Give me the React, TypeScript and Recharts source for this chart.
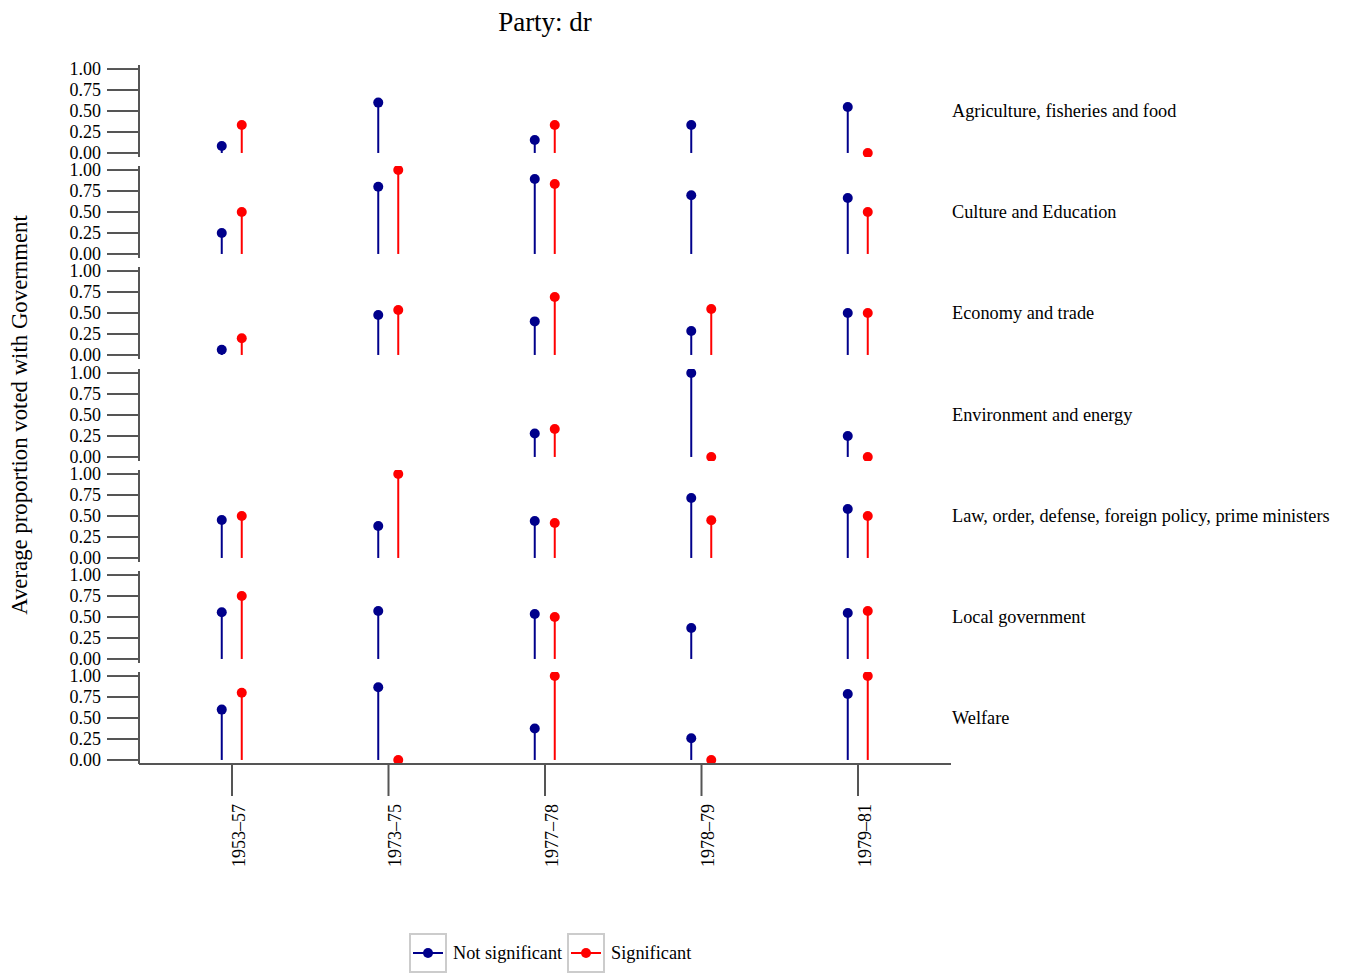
import React from "react";
import { ComposedChart, Bar, XAxis, YAxis } from "recharts";

const periods = ["1953–57", "1973–75", "1977–78", "1978–79", "1979–81"];

const topics = [
  "Agriculture, fisheries and food",
  "Culture and Education",
  "Economy and trade",
  "Environment and energy",
  "Law, order, defense, foreign policy, prime ministers",
  "Local government",
  "Welfare",
];

// one pair of arrays per topic, in the order of `periods`; null = no votes
const agricultureNot = [0.083, 0.6, 0.154, 0.333, 0.548];
const agricultureSig = [0.333, null, 0.333, null, 0];
const cultureNot = [0.25, 0.8, 0.893, 0.7, 0.667];
const cultureSig = [0.5, 1.0, 0.833, null, 0.5];
const economyNot = [0.063, 0.476, 0.4, 0.286, 0.5];
const economySig = [0.2, 0.536, 0.69, 0.548, 0.5];
const environmentNot = [null, null, 0.28, 1.0, 0.25];
const environmentSig = [null, null, 0.333, 0, 0];
const lawNot = [0.452, 0.381, 0.44, 0.714, 0.583];
const lawSig = [0.5, 1.0, 0.417, 0.45, 0.5];
const localNot = [0.556, 0.571, 0.536, 0.37, 0.548];
const localSig = [0.75, null, 0.5, null, 0.571];
const welfareNot = [0.6, 0.867, 0.375, 0.259, 0.786];
const welfareSig = [0.8, 0, 1.0, 0, 1.0];

const notSig = [agricultureNot, cultureNot, economyNot, environmentNot, lawNot, localNot, welfareNot];
const sig = [agricultureSig, cultureSig, economySig, environmentSig, lawSig, localSig, welfareSig];

const yTicks = [0, 0.25, 0.5, 0.75, 1];

const BLUE = "#00008B";
const RED = "#FF0000";
const AXIS = "#555555";
const FONT = '"Liberation Serif", "Times New Roman", serif';

const PLOT_LEFT = 139;
const PLOT_RIGHT = 951;
const ROW_TOP = 65;
const ROW_STEP = 101.2;
const ROW_H = 92;
const XAXIS_H = 112;
const PAD = 12; // room so edge tick labels are not clipped

function Lollipop(props: any) {
  const { x, y, width, height, color, raw } = props;
  if (raw == null) return null;
  const cx = x + width / 2;
  return (
    <g>
      <line x1={cx} x2={cx} y1={y} y2={y + height} stroke={color} strokeWidth={2} />
      <circle cx={cx} cy={y} r={5} fill={color} />
    </g>
  );
}

function PeriodTick({ x, y, payload }: any) {
  const tx = x + 12.5;
  return (
    <text
      x={tx}
      y={y}
      transform={`rotate(-90 ${tx} ${y})`}
      textAnchor="end"
      fontSize={18}
      fontFamily={FONT}
      fill="#000"
    >
      {payload.value}
    </text>
  );
}

function Panel({ idx }: { idx: number }) {
  const last = idx === topics.length - 1;
  const data = periods.map((p, i) => ({ period: p, ns: notSig[idx][i], s: sig[idx][i] }));
  const height = PAD + ROW_H + (last ? XAXIS_H : PAD);
  return (
    <div style={{ position: "absolute", left: 0, top: ROW_TOP + idx * ROW_STEP - PAD }}>
      <ComposedChart
        width={PLOT_RIGHT + 9}
        height={height}
        data={data}
        margin={{ top: PAD, right: 9, bottom: last ? 0 : PAD, left: 0 }}
        barGap={0}
      >
        <XAxis
          dataKey="period"
          hide={!last}
          height={XAXIS_H}
          padding={{ left: 14.75, right: 14.75 }}
          axisLine={{ stroke: AXIS, strokeWidth: 2 }}
          tickLine={{ stroke: AXIS, strokeWidth: 2 }}
          tickSize={32}
          tickMargin={8}
          interval={0}
          tick={<PeriodTick />}
        />
        <YAxis
          type="number"
          width={PLOT_LEFT}
          domain={[-0.048, 1.048]}
          allowDataOverflow
          ticks={yTicks}
          interval={0}
          tickFormatter={(v: number) => v.toFixed(2)}
          axisLine={{ stroke: AXIS, strokeWidth: 2 }}
          tickLine={{ stroke: AXIS, strokeWidth: 2 }}
          tickSize={32}
          tickMargin={6}
          tick={{ fill: "#000", fontSize: 18, fontFamily: FONT }}
        />
        <Bar
          dataKey="ns"
          barSize={20}
          isAnimationActive={false}
          shape={(p: any) => <Lollipop {...p} color={BLUE} raw={p.payload.ns} />}
        />
        <Bar
          dataKey="s"
          barSize={20}
          isAnimationActive={false}
          shape={(p: any) => <Lollipop {...p} color={RED} raw={p.payload.s} />}
        />
      </ComposedChart>
      <div
        style={{
          position: "absolute",
          left: 952,
          top: PAD + 4 + 42 - 12,
          lineHeight: "24px",
          fontSize: 18.3,
          fontFamily: FONT,
          whiteSpace: "nowrap",
        }}
      >
        {topics[idx]}
      </div>
    </div>
  );
}

function LegendKey({ left, color, label }: { left: number; color: string; label: string }) {
  return (
    <div style={{ position: "absolute", left, top: 933, display: "flex", alignItems: "center" }}>
      <svg width={38} height={40}>
        <rect x={1} y={1} width={36} height={38} fill="none" stroke="#cccccc" strokeWidth={2} />
        <line x1={4} x2={34} y1={20} y2={20} stroke={color} strokeWidth={2} />
        <circle cx={19} cy={20} r={5} fill={color} />
      </svg>
      <span style={{ marginLeft: 6, fontSize: 18.3, fontFamily: FONT }}>{label}</span>
    </div>
  );
}

export default function App() {
  return (
    <div style={{ position: "absolute", left: 0, top: 0, width: 1347, height: 977, background: "#fff", fontFamily: FONT }}>
      <div
        style={{
          position: "absolute",
          left: PLOT_LEFT,
          width: PLOT_RIGHT - PLOT_LEFT,
          top: 6,
          textAlign: "center",
          fontSize: 27,
          lineHeight: "32px",
        }}
      >
        Party: dr
      </div>
      <div
        style={{
          position: "absolute",
          left: 20 - 250,
          top: 415 - 14,
          width: 500,
          height: 28,
          lineHeight: "28px",
          textAlign: "center",
          fontSize: 22.8,
          transform: "rotate(-90deg)",
        }}
      >
        Average proportion voted with Government
      </div>
      {topics.map((_, i) => (
        <Panel key={i} idx={i} />
      ))}
      <LegendKey left={409} color={BLUE} label="Not significant" />
      <LegendKey left={567} color={RED} label="Significant" />
    </div>
  );
}
